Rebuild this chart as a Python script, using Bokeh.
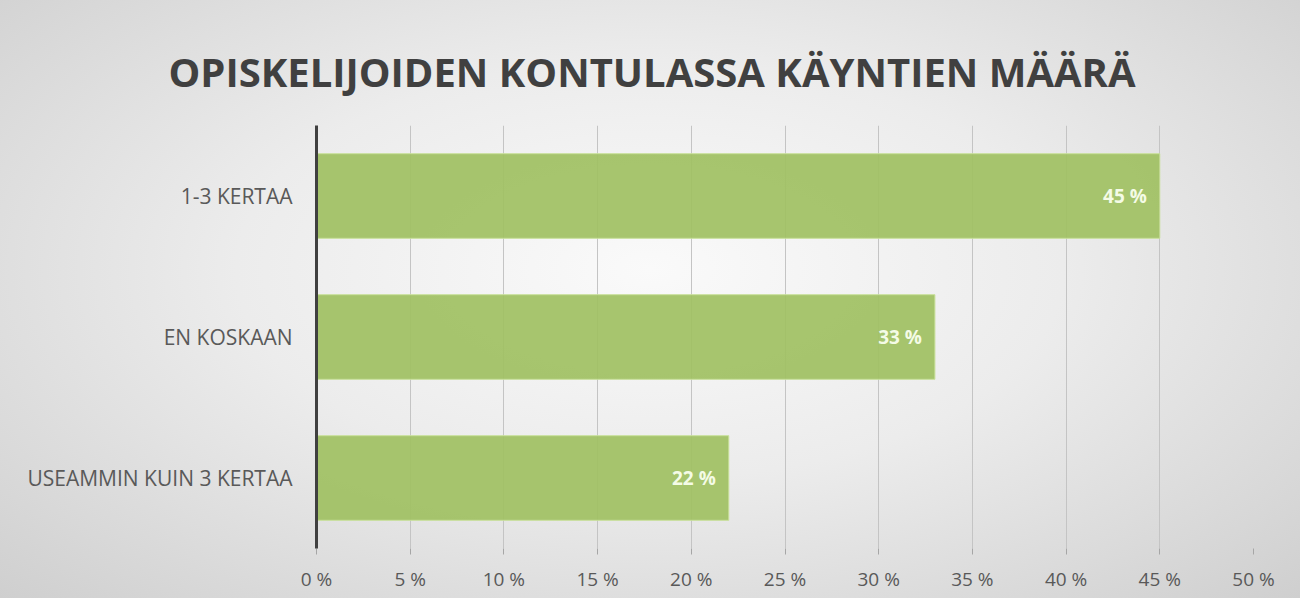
from bokeh.plotting import figure
from bokeh.models import FactorRange, Range1d, CustomJSTickFormatter, FixedTicker, ColumnDataSource
from bokeh.core.properties import value
from bokeh.embed import file_html
from bokeh.resources import INLINE

title_text = "OPISKELIJOIDEN KONTULASSA KÄYNTIEN MÄÄRÄ"
categories = ["USEAMMIN KUIN 3 KERTAA", "EN KOSKAAN", "1-3 KERTAA"]
shares = [22, 33, 45]
labels = ["22 %", "33 %", "45 %"]
ticks = [0, 5, 10, 15, 20, 25, 30, 35, 40, 45, 50]

FONT = "Open Sans"

p = figure(width=1300, height=598, output_backend="svg", toolbar_location=None,
           y_range=FactorRange(*categories, range_padding=0.0),
           x_range=Range1d(0, 50),
           min_border_left=316, min_border_right=47, min_border_bottom=50, min_border_top=125)
p.styles = {"background": "radial-gradient(ellipse at 50% 45%, #fafafa 0%, #ececec 45%, #cfcfcf 100%)"}
p.border_fill_alpha = 0
p.background_fill_alpha = 0
p.outline_line_color = None

p.title.text = title_text
p.title.align = "left"
p.title.offset = -148
p.title.text_font = FONT
p.title.text_font_style = "bold"
p.title.text_font_size = "40px"
p.title.text_color = "#404040"
p.title.standoff = 53

src = ColumnDataSource(dict(cat=categories, val=shares, lab=labels))
p.hbar(y="cat", right="val", left=0, height=0.6, source=src,
       fill_color="#a0c163", fill_alpha=0.93, line_color="#c9e09a", line_width=1)
p.text(x="val", y="cat", text="lab", source=src, x_offset=-13,
       text_align="right", text_baseline="middle", text_color="#f4fbe6",
       text_font=value(FONT), text_font_size="19px", text_font_style="bold")

p.xgrid.ticker = FixedTicker(ticks=ticks)
p.xgrid.grid_line_color = "#c4c4c4"
p.xgrid.grid_line_width = 1
p.ygrid.grid_line_color = None

p.xaxis.ticker = FixedTicker(ticks=ticks)
p.xaxis.formatter = CustomJSTickFormatter(code="return tick + ' %';")
p.xaxis.axis_line_color = None
p.xaxis.major_tick_in = 0
p.xaxis.major_tick_out = 6
p.xaxis.major_tick_line_color = "#a6a6a6"
p.xaxis.minor_tick_line_color = None
p.xaxis.major_label_text_font = FONT
p.xaxis.major_label_text_font_size = "19px"
p.xaxis.major_label_text_color = "#595959"
p.xaxis.major_label_standoff = 11

p.yaxis.axis_line_color = "#404040"
p.yaxis.axis_line_width = 3
p.yaxis.major_tick_line_color = None
p.yaxis.minor_tick_line_color = None
p.yaxis.major_label_text_font = FONT
p.yaxis.major_label_text_font_size = "21px"
p.yaxis.major_label_text_color = "#595959"
p.yaxis.major_label_standoff = 18

open("out.html", "w").write(file_html(p, INLINE))
